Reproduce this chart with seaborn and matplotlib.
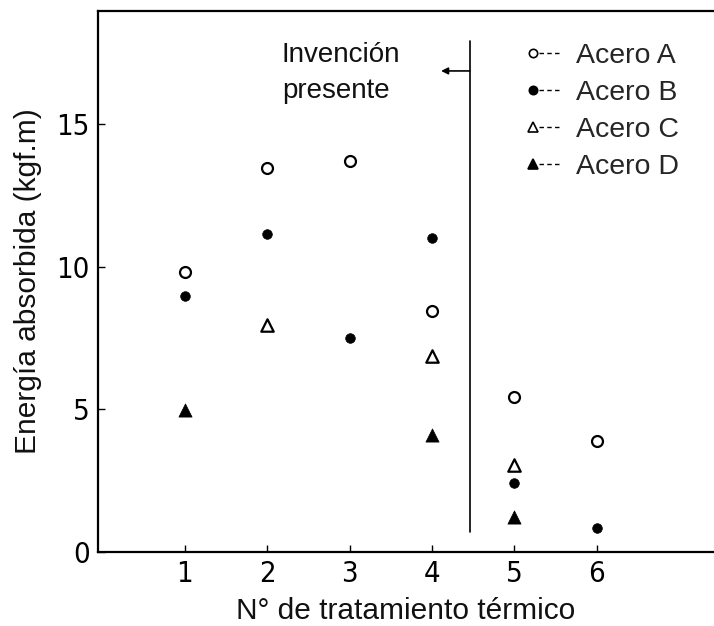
import matplotlib
matplotlib.use("Agg")
import matplotlib.pyplot as plt
from matplotlib.lines import Line2D
from matplotlib.legend_handler import HandlerTuple
import pandas as pd
import seaborn as sns

# Impact energy absorbed per heat treatment and steel grade
tratamiento_a = [1, 2, 3, 4, 5, 6]
acero_a = [9.80, 13.47, 13.70, 8.45, 5.44, 3.90]
tratamiento_b = [1, 2, 3, 4, 5, 6]
acero_b = [8.96, 11.16, 7.50, 11.02, 2.43, 0.84]
tratamiento_c = [2, 4, 5]
acero_c = [7.95, 6.87, 3.06]
tratamiento_d = [1, 4, 5]
acero_d = [4.98, 4.11, 1.21]

series_names = ["Acero A", "Acero B", "Acero C", "Acero D"]
x_ticks = [1, 2, 3, 4, 5, 6]
y_ticks = [0, 5, 10, 15]

sns.set_theme(style="white")
plt.rcParams["font.family"] = ["Liberation Sans", "DejaVu Sans"]

fig = plt.figure(figsize=(7.14, 6.26), dpi=100)
ax = fig.add_axes([0.1373, 0.1182, 0.8627, 0.8642])

frames = []
for name, xs, ys in zip(series_names,
                        [tratamiento_a, tratamiento_b, tratamiento_c, tratamiento_d],
                        [acero_a, acero_b, acero_c, acero_d]):
    frames.append(pd.DataFrame({"tratamiento": xs, "energia": ys, "acero": name}))
df = pd.concat(frames, ignore_index=True)

styles = {
    "Acero A": dict(marker="o", s=62, facecolor="white", edgecolor="black", linewidth=1.6),
    "Acero B": dict(marker="o", s=48, facecolor="black", edgecolor="black", linewidth=0.5),
    "Acero C": dict(marker="^", s=80, facecolor="white", edgecolor="black", linewidth=1.6),
    "Acero D": dict(marker="^", s=90, facecolor="black", edgecolor="black", linewidth=0.5),
}
for name in series_names:
    sns.scatterplot(data=df[df["acero"] == name], x="tratamiento", y="energia",
                    ax=ax, legend=False, zorder=3, **styles[name])

# Boundary of the present invention
ax.plot([4.46, 4.46], [0.7, 17.9], color="black", lw=1.2)
ax.annotate("", xy=(4.11, 16.86), xytext=(4.46, 16.86),
            arrowprops=dict(arrowstyle="-|>", color="black", lw=1.2,
                            mutation_scale=10, shrinkA=0, shrinkB=0))
ax.text(2.18, 16.8, "Invención\npresente", ha="left", va="center",
        fontsize=20, linespacing=1.5, color="#111111")

ax.set_xlim(-0.05, 7.42)
ax.set_ylim(0, 18.96)
ax.set_xticks(x_ticks)
ax.set_yticks(y_ticks)
tick_font = dict(family="DejaVu Sans", fontstretch="condensed", fontweight="light", size=21)
ax.set_xticklabels([str(v) for v in x_ticks], fontdict=tick_font)
ax.set_yticklabels([str(v) for v in y_ticks], fontdict=tick_font)
ax.tick_params(axis="both", direction="in", length=5, width=1.0, colors="black",
               pad=6, bottom=True, left=True)
ax.tick_params(axis="y", pad=6)

for side in ["left", "bottom", "top"]:
    ax.spines[side].set_color("black")
    ax.spines[side].set_linewidth(1.6)
ax.spines["right"].set_visible(False)

ax.set_xlabel("N° de tratamiento térmico", fontsize=21.5, labelpad=6, color="#111111")
ax.set_ylabel("Energía absorbida (kgf.m)", fontsize=21.5, labelpad=10, color="#111111")

handles = []
for name in series_names:
    st = styles[name]
    mk = Line2D([], [], linestyle="none", marker=st["marker"],
                markersize=6 if st["marker"] == "o" else 7,
                markerfacecolor=st["facecolor"], markeredgecolor="black", markeredgewidth=1.2)
    dash = Line2D([], [], linestyle=(0, (3.2, 2.4)), color="black", lw=1.0)
    handles.append((mk, dash))
ax.legend(handles, series_names, handler_map={tuple: HandlerTuple(ndivide=None, pad=-0.14)},
          loc="upper left", bbox_to_anchor=(0.657, 0.978), frameon=False,
          fontsize=20.5, handlelength=1.26, handletextpad=0.6, labelspacing=0.39,
          borderpad=0.2)

fig.savefig("out.png", dpi=100)
